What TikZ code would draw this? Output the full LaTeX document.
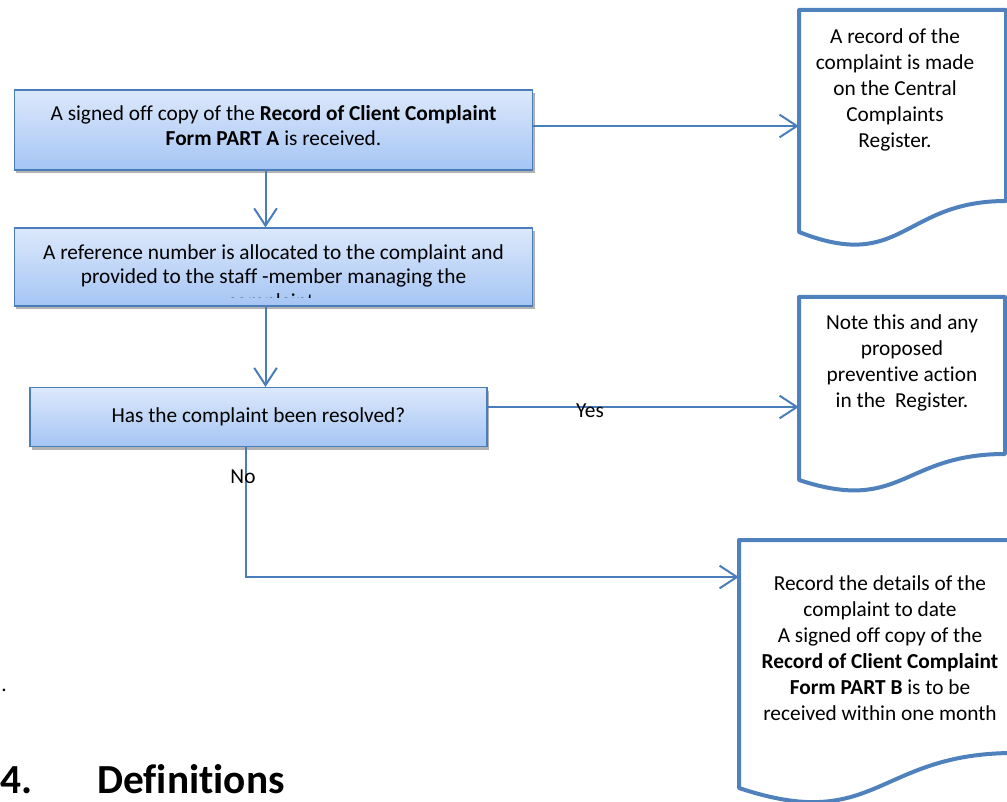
\documentclass[tikz,border=0pt]{standalone}
\usepackage{fontspec}
\setmainfont{Carlito}[Ligatures=NoCommon]
\usetikzlibrary{arrows.meta,shadows}

\definecolor{edgeblue}{HTML}{4A7EBB}
\definecolor{docblue}{HTML}{4F81BD}
\definecolor{boxtop}{HTML}{DCE8FB}
\definecolor{boxbot}{HTML}{A5C5F4}

\newcommand{\boxfont}{\fontsize{16}{18.5}\selectfont}
\newcommand{\docfont}{\fontsize{16}{19.5}\selectfont}

% outline of a document symbol: left, top, right, left bottom, right bottom, dip
\newcommand{\docoutline}[6]{%
  \draw[docline] (#1,#4) -- (#1,#2) -- (#3,#2) -- (#3,#5)
    .. controls ({(#1+#3)/2},#5) and ({(#1+#3)/2},#6) .. cycle;}

\tikzset{
  stepbox/.style={draw=edgeblue, line width=0.8pt, top color=boxtop, bottom color=boxbot,
    drop shadow={shadow xshift=1.5pt, shadow yshift=-2.5pt, fill=black, opacity=0.3},
    minimum width=389pt, align=center, font=\boxfont, inner sep=0pt},
  docline/.style={draw=docblue, line width=3pt, fill=white, line join=round},
  doctext/.style={align=flush center, font=\docfont, inner sep=0pt},
  flow/.style={draw=edgeblue, line width=1.5pt, -{Straight Barb[length=13pt,width=17pt]}},
  lbl/.style={font=\boxfont, inner sep=0pt},
}

\begin{document}
\begin{tikzpicture}[x=0.75pt, y=-0.75pt]
\useasboundingbox (0,0) rectangle (1007,802);

% the three steps
\node[stepbox, minimum height=60pt, text depth=6.5pt] (recv) at (273.5,130) {A signed off copy of the \textbf{Record of Client Complaint}\\\textbf{Form PART A} is received.};
\node[stepbox, minimum height=58.5pt] (ref) at (273.5,267) {};
\begin{scope}
  \clip (ref.north west) rectangle ([yshift=6.5pt]ref.south east);
  \node[align=center, font=\boxfont, inner sep=0pt] (reftext) at (273.5,278) {A reference number is allocated to the complaint and\\provided to the staff -member managing the\\complaint.};
\end{scope}
\node[stepbox, minimum width=342.75pt, minimum height=44.25pt] (ask) at (258.5,417) {Has the complaint been resolved?};

% the three documents
\docoutline{799}{10}{1006}{232}{201}{273}
\node[doctext, text width=144pt] (reg) at (895,90) {A record of the\\complaint is made\\on the Central\\Complaints\\Register.};
\docoutline{799}{297}{1005}{480}{454}{514}
\node[doctext, text width=154.5pt] (note) at (902,362.5) {Note this and any\\proposed\\preventive action\\in the~ Register.};
\docoutline{739}{540}{1014}{788}{753}{834}
\node[doctext, text width=211.5pt] (fix) at (880,648) {Record the details of the\\complaint to date\\A signed off copy of the\\\textbf{Record of Client Complaint}\\\textbf{Form PART B} is to be\\received within one month};

% connectors
\coordinate (nobend) at (246,577);
\draw[flow] ([yshift=3pt]recv.east) -- ([yshift=3pt]recv.east -| reg.west);
\draw[flow] ([xshift=-6pt]recv.south) -- ([xshift=-6pt]recv.south |- ref.north);
\draw[flow] ([xshift=-6pt]ref.south) -- ([xshift=-6pt]ref.south |- ask.north);
\draw[flow] ([yshift=7.5pt]ask.east) -- ([yshift=7.5pt]ask.east -| note.west);
\draw[flow] (ask.south -| nobend) -- (nobend) -- (nobend -| fix.west);
\node[lbl] (yes) at (590,411) {Yes};
\node[lbl] (no) at (243,477) {No};

% page text around the chart
\node[lbl, anchor=base west] (dot) at (1,691) {.};
\node[anchor=base west, inner sep=0pt, font=\fontsize{31}{37}\selectfont\bfseries] (secnum) at (0,793) {4.};
\node[anchor=base west, inner sep=0pt, font=\fontsize{31}{37}\selectfont\bfseries] (sectitle) at (97,793) {Definitions};
\end{tikzpicture}
\end{document}
